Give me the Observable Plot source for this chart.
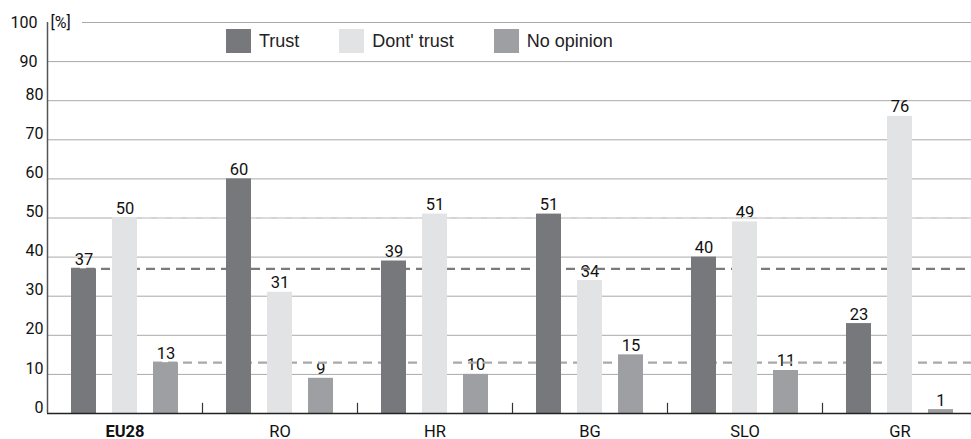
<!DOCTYPE html>
<html>
<head>
<meta charset="utf-8">
<script src="https://cdn.jsdelivr.net/npm/d3@7"></script>
<script src="https://cdn.jsdelivr.net/npm/@observablehq/plot@0.6"></script>
<style>
  html, body { margin: 0; padding: 0; background: #fff; }
  #wrap { position: relative; width: 971px; height: 439px; overflow: hidden; }
  #legend { position: absolute; left: 226px; top: 29px; display: flex; align-items: center;
            font-family: "Liberation Sans", Arial, sans-serif; font-size: 18px; color: #222; }
  #legend .item { display: flex; align-items: center; margin-right: 40px; }
  #legend .sw { width: 25px; height: 24px; margin-right: 8px; }
  svg text { font-family: Roboto, "Liberation Sans", sans-serif; }
</style>
</head>
<body>
<div id="wrap"><div id="chart"></div><div id="legend"></div></div>
<script>
// ---- data ----
const countries = ["EU28", "RO", "HR", "BG", "SLO", "GR"];
const series = ["Trust", "Dont' trust", "No opinion"];
const trust = [37, 60, 39, 51, 40, 23];
const dontTrust = [50, 31, 51, 34, 49, 76];
const noOpinion = [13, 9, 10, 15, 11, 1];
const yTicks = [0, 10, 20, 30, 40, 50, 60, 70, 80, 90, 100];
const yUnit = "[%]";

// ---- styles ----
const colors = ["#77787b", "#e2e3e5", "#9e9fa2"];
const dashColors = ["#7a7a7a", "#dcdcde", "#a9a9ab"];
const offsets = [-41, 0, 41];

const values = [trust, dontTrust, noOpinion];
const tables = values.map((vals, s) =>
  countries.map((c, i) => ({country: c, series: series[s], value: vals[i]}))
);
const eu28 = values.map(v => [{value: v[0]}]);
const first = countries[0], last = countries[countries.length - 1];

const marks = [];
// gridlines
marks.push(Plot.ruleY(yTicks.filter(t => t > 0 && t < 100), {stroke: "#a9a9a9", strokeWidth: 1}));
marks.push(Plot.ruleY([yTicks[yTicks.length - 1]], {stroke: "#a9a9a9", strokeWidth: 1, insetLeft: 35}));
// value labels
tables.forEach((t, s) => {
  marks.push(Plot.text(t, {x: "country", y: "value", text: d => String(d.value), dx: offsets[s], dy: -4,
    lineAnchor: "bottom", fontSize: 16.5, fill: "#111"}));
});
// EU28 reference dashed lines
eu28.forEach((d, s) => {
  marks.push(Plot.ruleY(d, {y: "value", x1: () => first, x2: () => last, insetLeft: 65 + offsets[s],
    stroke: dashColors[s], strokeWidth: 2.2, strokeDasharray: "9,6"}));
});
// bars
tables.forEach((t, s) => {
  marks.push(Plot.barY(t, {x: "country", y: "value", fill: colors[s], dx: offsets[s], insetLeft: 65, insetRight: 65}));
});
// baseline
marks.push(Plot.ruleY([0], {stroke: "#222", strokeWidth: 1.6}));
// y axis line
marks.push(Plot.ruleX([first], {x: d => d, dx: -77.5, y1: 0, y2: 100, stroke: "#555", strokeWidth: 1.5}));
// group separator ticks
marks.push(Plot.ruleX(countries.slice(1), {x: d => d, dx: -77.5, y1: 0, y2: 2.6, stroke: "#333", strokeWidth: 1.2}));
// y axis labels
marks.push(Plot.axisY({ticks: yTicks.filter(t => t < 90), tickSize: 0, tickPadding: 4, dy: -6, fontSize: 16, fill: "#111", label: null}));
marks.push(Plot.axisY({ticks: yTicks.filter(t => t >= 90), tickSize: 0, tickPadding: 10, dy: 0, fontSize: 16, fill: "#111", label: null}));
// unit label
marks.push(Plot.text([yUnit], {x: () => first, y: () => 100, text: d => d, dx: -77.5 + 3, textAnchor: "start",
  fontSize: 16, fill: "#111"}));
// country labels
marks.push(Plot.text(countries.slice(0, 1), {x: d => d, text: d => d, frameAnchor: "bottom", lineAnchor: "bottom", dy: 23,
  fontSize: 16.5, fontWeight: "bold", fill: "#111"}));
marks.push(Plot.text(countries.slice(1), {x: d => d, text: d => d, frameAnchor: "bottom", lineAnchor: "bottom", dy: 23,
  fontSize: 16.5, fill: "#111"}));

const chart = Plot.plot({
  width: 971,
  height: 439,
  marginLeft: 47,
  marginRight: 0,
  marginTop: 22,
  marginBottom: 26,
  style: {fontFamily: "Roboto, sans-serif", fontSize: "15px", color: "#111", background: "#fff"},
  x: {domain: countries, range: [47, 977], padding: 0, axis: null},
  y: {domain: [0, 100], range: [413, 22], axis: null},
  marks
});
document.getElementById("chart").append(chart);

// legend
const legend = d3.select("#legend");
series.forEach((name, s) => {
  const item = legend.append("div").attr("class", "item");
  item.append("div").attr("class", "sw").style("background", colors[s]);
  item.append("span").text(name);
});
</script>
</body>
</html>
